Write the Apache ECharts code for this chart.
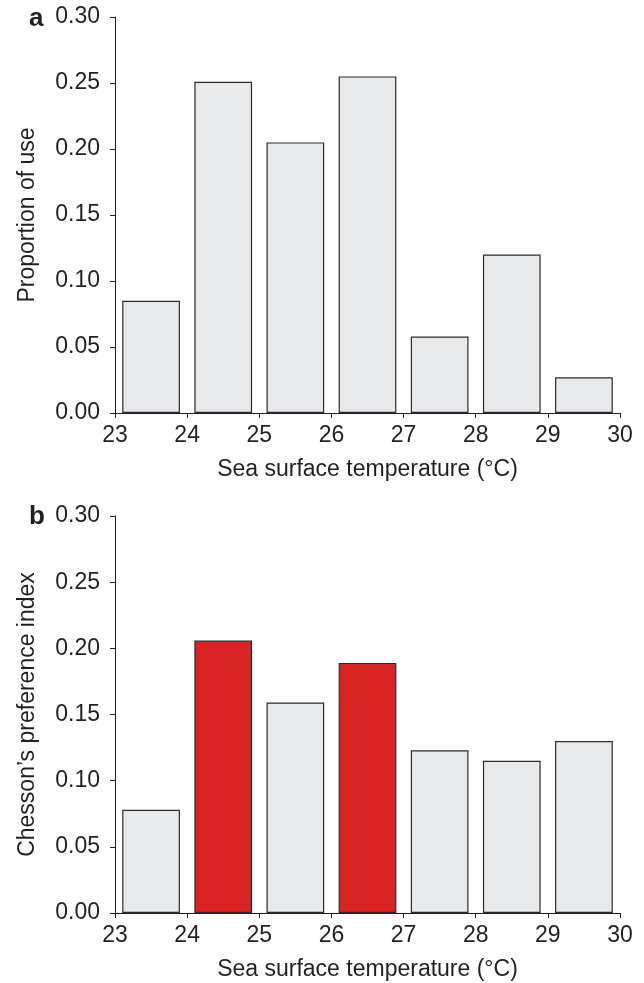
<!DOCTYPE html>
<html>
<head>
<meta charset="utf-8">
<script src="https://cdn.jsdelivr.net/npm/echarts@6/dist/echarts.min.js"></script>
<style>html,body{margin:0;padding:0;background:#fff}#c{width:644px;height:983px}</style>
</head>
<body>
<div id="c"></div>
<script>
// Data
const binCenters = [23.5, 24.5, 25.5, 26.5, 27.5, 28.5, 29.5];
const proportionOfUse = [0.085, 0.251, 0.205, 0.255, 0.058, 0.120, 0.027];
const chessonIndex = [0.078, 0.206, 0.159, 0.189, 0.123, 0.115, 0.130];
const chessonHighlight = [false, true, false, true, false, false, false];
const xAxisTitle = 'Sea surface temperature (°C)';
const yTitleA = 'Proportion of use';
const yTitleB = 'Chesson\u2019s preference index';
const panelLabels = ['a', 'b'];

const FONT = '"Liberation Sans", Arial, Helvetica, sans-serif';
const TXT = '#231f20';
const GRAY = '#e8e9eb';
const RED = '#d92323';
const EDGE = '#2b2b2b';

const chart = echarts.init(document.getElementById('c'));

function xAxisCfg(gi) {
  return {
    type: 'value', gridIndex: gi, min: 23, max: 30, interval: 1,
    name: xAxisTitle, nameLocation: 'middle', nameGap: 45,
    nameTextStyle: { fontFamily: FONT, fontSize: 23, color: TXT },
    axisLine: { show: true, lineStyle: { color: TXT, width: 1 } },
    axisTick: { show: true, length: 5, lineStyle: { color: TXT, width: 1 } },
    axisLabel: { fontFamily: FONT, fontSize: 23, color: TXT, margin: 11 },
    splitLine: { show: false }
  };
}
function yAxisCfg(gi, name) {
  return {
    type: 'value', gridIndex: gi, min: 0, max: 0.3, interval: 0.05,
    name: name, nameLocation: 'middle', nameGap: 76,
    nameTextStyle: { fontFamily: FONT, fontSize: 23, color: TXT },
    axisLine: { show: true, lineStyle: { color: TXT, width: 1 } },
    axisTick: { show: true, length: 5, lineStyle: { color: TXT, width: 1 } },
    axisLabel: { fontFamily: FONT, fontSize: 23, color: TXT, margin: 15,
      formatter: v => v.toFixed(2) },
    splitLine: { show: false }
  };
}

chart.setOption({
  animation: false,
  backgroundColor: '#fff',
  grid: [
    { left: 115, right: 24, top: 17, height: 396 },
    { left: 115, right: 24, top: 516, height: 397 }
  ],
  xAxis: [xAxisCfg(0), xAxisCfg(1)],
  yAxis: [yAxisCfg(0, yTitleA), yAxisCfg(1, yTitleB)],
  graphic: [
    { type: 'text', left: 29, top: 6, style: { text: panelLabels[0], font: 'bold 26px ' + FONT, fill: TXT } },
    { type: 'text', left: 29, top: 504, style: { text: panelLabels[1], font: 'bold 26px ' + FONT, fill: TXT } }
  ],
  series: [
    {
      type: 'bar', xAxisIndex: 0, yAxisIndex: 0, barWidth: '80%',
      itemStyle: { color: GRAY, borderColor: EDGE, borderWidth: 1.2 },
      data: binCenters.map((x, i) => [x, proportionOfUse[i]])
    },
    {
      type: 'bar', xAxisIndex: 1, yAxisIndex: 1, barWidth: '80%',
      itemStyle: { color: GRAY, borderColor: EDGE, borderWidth: 1.2 },
      data: binCenters.map((x, i) => ({
        value: [x, chessonIndex[i]],
        itemStyle: { color: chessonHighlight[i] ? RED : GRAY }
      }))
    }
  ]
});
</script>
</body>
</html>
